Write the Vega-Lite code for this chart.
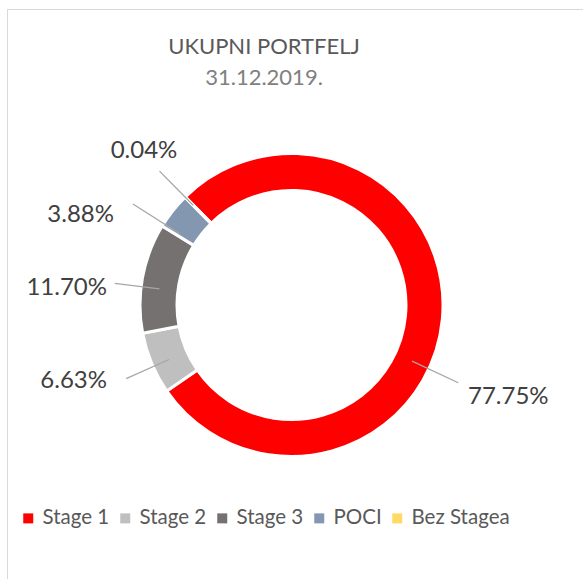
{
  "$schema": "https://vega.github.io/schema/vega-lite/v6.json",
  "width": 583,
  "height": 610,
  "autosize": "none",
  "padding": 0,
  "background": "white",
  "config": {"view": {"stroke": null}, "font": "Lato"},
  "title": {
    "text": "UKUPNI PORTFELJ",
    "subtitle": "31.12.2019.",
    "anchor": "middle",
    "frame": "group",
    "orient": "top",
    "offset": -90,
    "dx": -27.5,
    "font": "Lato",
    "fontSize": 22,
    "fontWeight": "normal",
    "color": "#595959",
    "subtitleFont": "Lato",
    "subtitleFontSize": 22,
    "subtitleColor": "#808080",
    "subtitlePadding": 9
  },
  "data": {
    "values": [
      {"cat": "Stage 1", "value": 0.7775, "order": 1},
      {"cat": "Stage 2", "value": 0.0663, "order": 2},
      {"cat": "Stage 3", "value": 0.1170, "order": 3},
      {"cat": "POCI", "value": 0.0388, "order": 4},
      {"cat": "Bez Stagea", "value": 0.0004, "order": 5}
    ]
  },
  "transform": [
    {"stack": "value", "groupby": [], "sort": [{"field": "order", "order": "ascending"}], "as": ["v0", "v1"]}
  ],
  "layer": [
    {
      "mark": {"type": "point", "opacity": 0},
      "encoding": {
        "x": {"field": "value", "type": "quantitative", "scale": {"range": [7, 600]},
              "axis": {"orient": "top", "offset": -9, "domainColor": "#d9d9d9", "domainWidth": 1, "ticks": false, "labels": false, "grid": false, "title": null}},
        "y": {"field": "value", "type": "quantitative", "scale": {"range": [620, 9]},
              "axis": {"orient": "left", "offset": -7, "domainColor": "#d9d9d9", "domainWidth": 1, "ticks": false, "labels": false, "grid": false, "title": null}}
      }
    },
    {
      "mark": {"type": "arc", "radius": 151.5, "innerRadius": 114.5, "stroke": "white", "strokeWidth": 3},
      "encoding": {
        "theta": {"field": "v0", "type": "quantitative", "stack": null, "scale": {"domain": [0, 1], "range": [-0.77667, 5.50652]}},
        "theta2": {"field": "v1"},
        "color": {
          "field": "cat", "type": "nominal",
          "scale": {"domain": ["Stage 1", "Stage 2", "Stage 3", "POCI", "Bez Stagea"], "range": ["#ff0000", "#bfbfbf", "#767171", "#8497b0", "#ffd966"]},
          "legend": {
            "orient": "none", "legendX": 18, "legendY": 508, "direction": "horizontal", "title": null,
            "symbolType": "square", "symbolSize": 100, "symbolStrokeWidth": 0,
            "labelFont": "Lato", "labelFontSize": 20.5, "labelColor": "#595959", "labelOffset": 4,
            "columnPadding": 5, "padding": 0
          }
        }
      }
    },
    {
      "transform": [{"filter": "datum.cat === 'Stage 1'"}],
      "mark": {"type": "arc", "radius": 184, "innerRadius": 133, "filled": false, "stroke": "#a6a6a6", "strokeWidth": 1.3, "thetaOffset": 2.78379, "theta2Offset": 2.78379},
      "encoding": {"theta": {"field": "v0", "type": "quantitative", "stack": null}, "theta2": {"field": "v0"}}
    },
    {
      "transform": [{"filter": "datum.cat === 'Stage 2'"}],
      "mark": {"type": "arc", "radius": 181, "innerRadius": 134, "filled": false, "stroke": "#a6a6a6", "strokeWidth": 1.3, "thetaOffset": 0.18500, "theta2Offset": 0.18500},
      "encoding": {"theta": {"field": "v0", "type": "quantitative", "stack": null}, "theta2": {"field": "v0"}}
    },
    {
      "transform": [{"filter": "datum.cat === 'Stage 3'"}],
      "mark": {"type": "arc", "radius": 178, "innerRadius": 133, "filled": false, "stroke": "#a6a6a6", "strokeWidth": 1.3, "thetaOffset": 0.30948, "theta2Offset": 0.30948},
      "encoding": {"theta": {"field": "v0", "type": "quantitative", "stack": null}, "theta2": {"field": "v0"}}
    },
    {
      "transform": [{"filter": "datum.cat === 'POCI'"}],
      "mark": {"type": "arc", "radius": 188, "innerRadius": 133, "filled": false, "stroke": "#a6a6a6", "strokeWidth": 1.3, "thetaOffset": 0.01941, "theta2Offset": 0.01941},
      "encoding": {"theta": {"field": "v0", "type": "quantitative", "stack": null}, "theta2": {"field": "v0"}}
    },
    {
      "transform": [{"filter": "datum.cat === 'Bez Stagea'"}],
      "mark": {"type": "arc", "radius": 188, "innerRadius": 140, "filled": false, "stroke": "#a6a6a6", "strokeWidth": 1.3, "thetaOffset": 0.0008, "theta2Offset": 0.0008},
      "encoding": {"theta": {"field": "v0", "type": "quantitative", "stack": null}, "theta2": {"field": "v0"}}
    },
    {
      "transform": [{"filter": "datum.cat === 'Stage 1'"}],
      "mark": {"type": "text", "radius": 199, "thetaOffset": 2.8280, "align": "left", "baseline": "middle", "font": "Lato", "fontSize": 24, "color": "#404040"},
      "encoding": {"theta": {"field": "v0", "type": "quantitative", "stack": null}, "text": {"field": "value", "type": "quantitative", "format": ".2%"}}
    },
    {
      "transform": [{"filter": "datum.cat === 'Stage 2'"}],
      "mark": {"type": "text", "radius": 199.5, "thetaOffset": 0.21310, "align": "right", "baseline": "middle", "font": "Lato", "fontSize": 24, "color": "#404040"},
      "encoding": {"theta": {"field": "v0", "type": "quantitative", "stack": null}, "text": {"field": "value", "type": "quantitative", "format": ".2%"}}
    },
    {
      "transform": [{"filter": "datum.cat === 'Stage 3'"}],
      "mark": {"type": "text", "radius": 185.3, "thetaOffset": 0.27911, "align": "right", "baseline": "middle", "font": "Lato", "fontSize": 24, "color": "#404040"},
      "encoding": {"theta": {"field": "v0", "type": "quantitative", "stack": null}, "text": {"field": "value", "type": "quantitative", "format": ".2%"}}
    },
    {
      "transform": [{"filter": "datum.cat === 'POCI'"}],
      "mark": {"type": "text", "radius": 199, "thetaOffset": -0.07850, "align": "right", "baseline": "middle", "font": "Lato", "fontSize": 24, "color": "#404040"},
      "encoding": {"theta": {"field": "v0", "type": "quantitative", "stack": null}, "text": {"field": "value", "type": "quantitative", "format": ".2%"}}
    },
    {
      "transform": [{"filter": "datum.cat === 'Bez Stagea'"}],
      "mark": {"type": "text", "radius": 213, "thetaOffset": 0.01437, "align": "center", "baseline": "middle", "font": "Lato", "fontSize": 24, "color": "#404040"},
      "encoding": {"theta": {"field": "v0", "type": "quantitative", "stack": null}, "text": {"field": "value", "type": "quantitative", "format": ".2%"}}
    }
  ]
}
